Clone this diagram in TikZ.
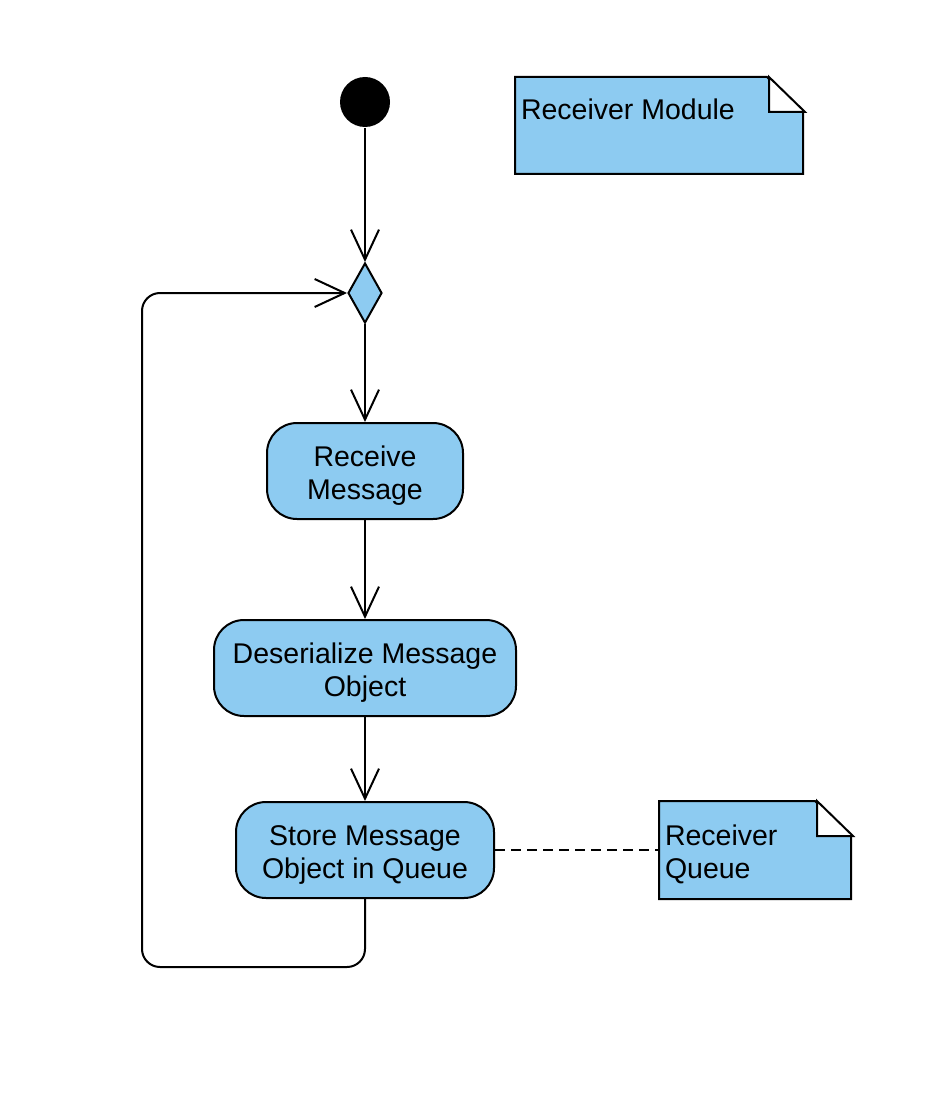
\documentclass[tikz,border=0pt]{standalone}
\usepackage{fontspec}
\setmainfont{Liberation Sans}
\usetikzlibrary{arrows.meta,shapes.geometric}
\definecolor{nblue}{HTML}{8DCBF1}
\newcommand\mytopstrut{\rule{0pt}{29pt}}
\begin{document}
\begin{tikzpicture}[x=1pt,y=-1pt,line width=2pt,
  txt/.style={font=\fontsize{28.5}{33}\selectfont},
  act/.style={txt, draw, fill=nblue, rounded corners=30pt, minimum height=96pt, align=center, inner sep=0pt},
  flow/.style={-{Straight Barb[length=30pt,width=28pt,line width=2pt]}},
  notebox/.style={draw=none, fill=none, inner sep=0pt},
  notetext/.style={txt, inner sep=0pt, align=left}]
\useasboundingbox (0,0) rectangle (936,1102);
\node[circle, fill=black, minimum size=50pt, inner sep=0pt] (start) at (365,102) {};
\node[diamond, draw, fill=nblue, minimum width=34pt, minimum height=60pt, inner sep=0pt] (dec) at (365,293) {};
\node[act, minimum width=196pt] (recv) at (365,471) {\mytopstrut Receive\\Message};
\node[act, minimum width=302pt] (deser) at (365,668) {\mytopstrut Deserialize Message\\Object};
\node[act, minimum width=258pt] (store) at (365,850) {\mytopstrut Store Message\\Object in Queue};
% notes
\node[notebox, minimum width=288pt, minimum height=95pt] (mod) at (660,125.5) {};
\draw[fill=nblue] (mod.north west) -- ++(252,0) -- ++(36,35) |- (mod.south west) -- cycle;
\draw[fill=white] (mod.north east) ++(-36,0) -- ++(0,35) -- ++(36,0) -- cycle;
\node[notetext, anchor=base west] (modtext) at (520,120) {Receiver Module};
\node[notebox, minimum width=192pt, minimum height=96pt] (queue) at (756,850) {};
\draw[fill=nblue] (queue.north west) -- ++(156,0) -- ++(36,35) |- (queue.south west) -- cycle;
\draw[fill=white] (queue.north east) ++(-36,0) -- ++(0,35) -- ++(36,0) -- cycle;
\node[notetext, anchor=west] (queuetext) at ([xshift=5pt,yshift=-4pt]queue.west) {Receiver\\Queue};
% connectors
\draw[flow] (start) -- (dec);
\draw[flow] (dec) -- (recv);
\draw[flow] (recv) -- (deser);
\draw[flow] (deser) -- (store);
\coordinate (lb) at (142,967);
\draw[flow, rounded corners=18pt] (store.south) |- (lb) |- (dec.west);
\draw[line width=1.5pt, dash pattern=on 10pt off 6pt] (store.east) -- (queue.west);
\end{tikzpicture}
\end{document}
